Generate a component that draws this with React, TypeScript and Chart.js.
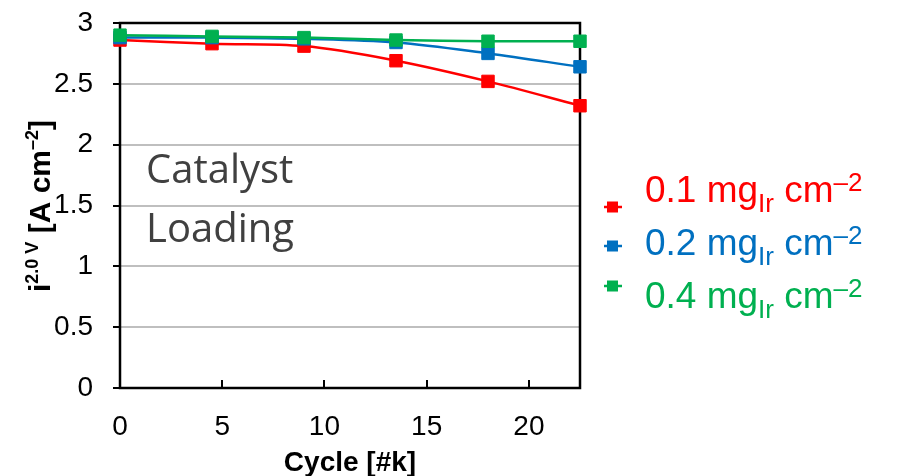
import React, { useEffect, useRef } from "react";
import { Chart, registerables } from "chart.js";

Chart.register(...registerables);

const cycles = [0, 4.5, 9, 13.5, 18, 22.5];
const load01 = [2.86, 2.83, 2.81, 2.69, 2.52, 2.32];
const load02 = [2.88, 2.88, 2.87, 2.84, 2.75, 2.64];
const load04 = [2.9, 2.89, 2.88, 2.86, 2.85, 2.85];
const seriesLoadings = ["0.1", "0.2", "0.4"];
const seriesColors = ["#FF0000", "#0070C0", "#00B050"];
const xTickValues = [0, 5, 10, 15, 20];
const yTickValues = [0, 0.5, 1, 1.5, 2, 2.5, 3];
const annotationLines = ["Catalyst", "Loading"];
const xTitle = "Cycle [#k]";

const SANS = '"Liberation Sans", Arial, sans-serif';

type Seg = { t: string; size: number; dy?: number; bold?: boolean };

function drawRich(
  ctx: CanvasRenderingContext2D,
  segs: Seg[],
  x: number,
  y: number,
  color: string,
  align: "left" | "center"
) {
  const widths = segs.map((s) => {
    ctx.font = `${s.bold ? "bold " : ""}${s.size}px ${SANS}`;
    return ctx.measureText(s.t).width;
  });
  const total = widths.reduce((a, b) => a + b, 0);
  let cx = align === "center" ? x - total / 2 : x;
  ctx.fillStyle = color;
  ctx.textAlign = "left";
  ctx.textBaseline = "alphabetic";
  segs.forEach((s, i) => {
    ctx.font = `${s.bold ? "bold " : ""}${s.size}px ${SANS}`;
    ctx.fillText(s.t, cx, y + (s.dy || 0));
    cx += widths[i];
  });
}

const decorPlugin = {
  id: "decor",
  beforeDatasetsDraw(chart: any) {
    const { ctx, chartArea, scales } = chart;
    const { left, right, top, bottom } = chartArea;
    ctx.save();
    // inward x ticks
    ctx.strokeStyle = "#000";
    ctx.lineWidth = 2;
    xTickValues.forEach((v) => {
      if (v === 0) return;
      const px = Math.round(scales.x.getPixelForValue(v));
      ctx.beginPath();
      ctx.moveTo(px, bottom);
      ctx.lineTo(px, bottom - 8);
      ctx.stroke();
    });
    // plot box
    ctx.strokeStyle = "#000";
    ctx.lineWidth = 2.5;
    ctx.strokeRect(left, top, right - left, bottom - top);
    // annotation text
    ctx.fillStyle = "#404040";
    ctx.font = `40px "Open Sans", Lato, sans-serif`;
    ctx.textAlign = "left";
    ctx.textBaseline = "alphabetic";
    ctx.fillText(annotationLines[0], 146, 183);
    ctx.fillText(annotationLines[1], 146, 242);
    ctx.restore();
  },
  afterDraw(chart: any) {
    const { ctx, chartArea } = chart;
    ctx.save();
    // x title
    ctx.fillStyle = "#000";
    ctx.font = `bold 28px ${SANS}`;
    ctx.textAlign = "center";
    ctx.textBaseline = "alphabetic";
    ctx.fillText(xTitle, (chartArea.left + chartArea.right) / 2, 471);
    // y title
    ctx.save();
    ctx.translate(50, 206);
    ctx.rotate(-Math.PI / 2);
    drawRich(
      ctx,
      [
        { t: "i", size: 30, bold: true },
        { t: "2.0 V", size: 18, dy: -12, bold: true },
        { t: " [A cm", size: 30, bold: true },
        { t: "–2", size: 18, dy: -12, bold: true },
        { t: "]", size: 30, bold: true },
      ],
      0,
      0,
      "#000",
      "center"
    );
    ctx.restore();
    // legend
    const markerY = [207, 246, 286];
    const textY = [202, 255, 308];
    seriesLoadings.forEach((ld, i) => {
      const c = seriesColors[i];
      ctx.strokeStyle = c;
      ctx.lineWidth = 2.5;
      ctx.beginPath();
      ctx.moveTo(604, markerY[i]);
      ctx.lineTo(622, markerY[i]);
      ctx.stroke();
      ctx.fillStyle = c;
      ctx.fillRect(607, markerY[i] - 5.5, 11, 11);
      drawRich(
        ctx,
        [
          { t: `${ld} mg`, size: 37 },
          { t: "Ir", size: 26, dy: 10 },
          { t: " cm", size: 37 },
          { t: "–2", size: 26, dy: -11 },
        ],
        645,
        textY[i],
        c,
        "left"
      );
    });
    ctx.restore();
  },
};

export default function App() {
  const canvasRef = useRef<HTMLCanvasElement | null>(null);

  useEffect(() => {
    document.body.style.margin = "0";
    const canvas = canvasRef.current;
    if (!canvas) return;
    const series = [load01, load02, load04];
    const chart = new Chart(canvas, {
      type: "line",
      data: {
        datasets: series.map((vals, i) => ({
          label: seriesLoadings[i],
          data: cycles.map((x, j) => ({ x, y: vals[j] })),
          borderColor: seriesColors[i],
          backgroundColor: seriesColors[i],
          pointBackgroundColor: seriesColors[i],
          pointBorderColor: seriesColors[i],
          pointStyle: "rect",
          pointRadius: 8.8,
          pointBorderWidth: 1,
          borderWidth: 2.5,
          tension: 0.35,
          clip: false as any,
          order: 2 - i,
        })),
      },
      options: {
        animation: false,
        responsive: false,
        maintainAspectRatio: false,
        layout: { padding: { top: 23, right: 319, left: 0, bottom: 0 } },
        plugins: {
          legend: { display: false },
          tooltip: { enabled: false },
          title: { display: false },
        },
        scales: {
          x: {
            type: "linear",
            min: 0,
            max: 22.5,
            afterBuildTicks: (s: any) => {
              s.ticks = xTickValues.map((v) => ({ value: v }));
            },
            afterFit: (s: any) => {
              s.height = 88;
              s.paddingLeft = 0;
              s.paddingRight = 0;
            },
            grid: { drawOnChartArea: false, drawTicks: false },
            border: { display: false },
            ticks: {
              color: "#000",
              padding: 22,
              maxRotation: 0,
              autoSkip: false,
              font: { family: SANS, size: 28 },
              callback: (v: any) => String(v),
            },
          },
          y: {
            type: "linear",
            min: 0,
            max: 3,
            afterBuildTicks: (s: any) => {
              s.ticks = yTickValues.map((v) => ({ value: v }));
            },
            afterFit: (s: any) => {
              s.width = 120;
              s.paddingTop = 0;
              s.paddingBottom = 0;
            },
            grid: {
              color: "#BFBFBF",
              lineWidth: 2,
              tickColor: "#000",
              tickLength: 7,
              drawTicks: true,
            },
            border: { display: false },
            ticks: {
              color: "#000",
              padding: 20,
              autoSkip: false,
              font: { family: SANS, size: 28 },
              callback: (v: any) => String(v),
            },
          },
        },
      },
      plugins: [decorPlugin],
    });
    return () => chart.destroy();
  }, []);

  return (
    <div style={{ width: 899, height: 476 }}>
      <canvas
        ref={canvasRef}
        width={899}
        height={476}
        style={{ display: "block", width: 899, height: 476 }}
      />
    </div>
  );
}
